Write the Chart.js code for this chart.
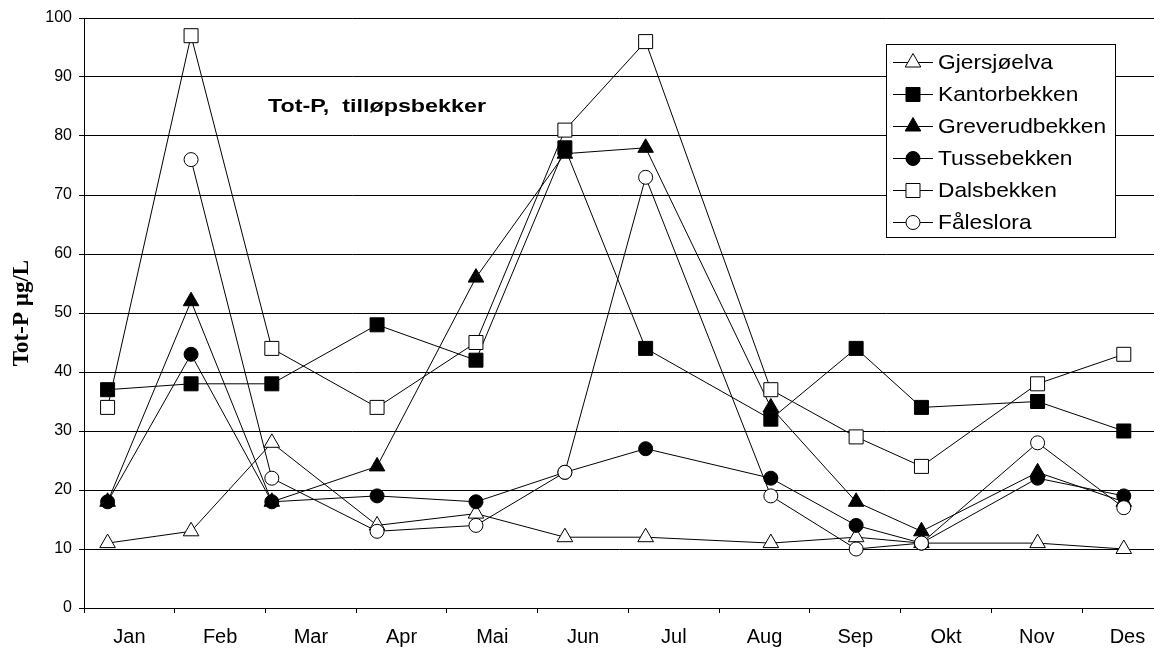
<!DOCTYPE html>
<html><head><meta charset="utf-8">
<script src="https://cdn.jsdelivr.net/npm/chart.js@4.4.1/dist/chart.umd.min.js"></script>
<style>html,body{margin:0;padding:0;background:#fff;overflow:hidden}#wrap{width:1154px;height:648px}</style>
</head><body><div id="wrap"><canvas id="c" width="1154" height="648"></canvas></div>
<script>
// ---- data ----
const monthLabels = ['Jan','Feb','Mar','Apr','Mai','Jun','Jul','Aug','Sep','Okt','Nov','Des'];
// sampling time expressed as fractional month (0 = 1 Jan)
const sampleMonth = [0.26, 1.18, 2.07, 3.23, 4.32, 5.30, 6.19, 7.57, 8.51, 9.23, 10.51, 11.46];
const gjersjoelva    = [11, 13, 28, 14, 16, 12, 12, 11, 12, 11, 11, 10];
const kantorbekken   = [37, 38, 38, 48, 42, 78, 44, 32, 44, 34, 35, 30];
const greverudbekken = [18, 52, 18, 24, 56, 77, 78, 34, 18, 13, 23, 18];
const tussebekken    = [18, 43, 18, 19, 18, 23, 27, 22, 14, 11, 22, 19];
const dalsbekken     = [34, 97, 44, 34, 45, 81, 96, 37, 29, 24, 38, 43];
const faleslora      = [null, 76, 22, 13, 14, 23, 73, 19, 10, 11, 28, 17];
const yTickStep = 10;
const yMin = 0, yMax = 100;
const chartTitle = 'Tot-P,  tilløpsbekker';
const yTitle = 'Tot-P µg/L';

const seriesNames = ['Gjersjøelva','Kantorbekken','Greverudbekken','Tussebekken','Dalsbekken','Fåleslora'];
const seriesValues = [gjersjoelva, kantorbekken, greverudbekken, tussebekken, dalsbekken, faleslora];
const seriesStyle = [
  {pointStyle:'triangle', fill:'#ffffff', r:9},
  {pointStyle:'rect', fill:'#000000', r:9.9},
  {pointStyle:'triangle', fill:'#000000', r:9},
  {pointStyle:'circle', fill:'#000000', r:7},
  {pointStyle:'rect', fill:'#ffffff', r:9.9},
  {pointStyle:'circle', fill:'#ffffff', r:7}
];

const datasets = seriesNames.map((name, i) => ({
  label: name,
  data: sampleMonth.map((x, j) => ({x: x, y: seriesValues[i][j]})),
  borderColor: '#000',
  borderWidth: 1,
  tension: 0,
  spanGaps: false,
  pointStyle: seriesStyle[i].pointStyle,
  pointRadius: seriesStyle[i].r,
  pointHoverRadius: seriesStyle[i].r,
  pointBackgroundColor: seriesStyle[i].fill,
  pointBorderColor: '#000',
  pointBorderWidth: 1,
  order: seriesNames.length - i,
  clip: false
}));

const overlay = {
  id: 'overlay',
  afterDraw(chart) {
    const ctx = chart.ctx;
    // title inside plot
    ctx.save();
    ctx.fillStyle = '#000';
    ctx.font = "bold 19px 'Liberation Sans', Arial, sans-serif";
    ctx.textBaseline = 'alphabetic';
    ctx.textAlign = 'left';
    const tw = ctx.measureText(chartTitle).width;
    ctx.translate(268, 112);
    ctx.scale(218 / tw, 1);
    ctx.fillText(chartTitle, 0, 0);
    ctx.restore();

    // legend
    ctx.save();
    ctx.font = "21px 'Liberation Sans', Arial, sans-serif";
    const sx = 115 / ctx.measureText('Gjersjøelva').width;
    let maxW = 0;
    seriesNames.forEach(n => { maxW = Math.max(maxW, ctx.measureText(n).width * sx); });
    const bx = 886.5, by = 44.5, bw = Math.round(938 + maxW + 9 - 886), bh = 193;
    ctx.fillStyle = '#fff';
    ctx.fillRect(bx, by, bw, bh);
    ctx.strokeStyle = '#000';
    ctx.lineWidth = 1;
    ctx.strokeRect(bx, by, bw, bh);
    seriesNames.forEach((n, i) => {
      const y = 62 + 32 * i;
      ctx.beginPath();
      ctx.moveTo(893, y + 0.5);
      ctx.lineTo(933, y + 0.5);
      ctx.strokeStyle = '#000';
      ctx.lineWidth = 1;
      ctx.stroke();
      ctx.fillStyle = seriesStyle[i].fill;
      ctx.strokeStyle = '#000';
      Chart.helpers.drawPoint(ctx, {pointStyle: seriesStyle[i].pointStyle, radius: seriesStyle[i].r, rotation: 0, borderWidth: 1}, 913, y + 0.5);
      ctx.save();
      ctx.fillStyle = '#000';
      ctx.textBaseline = 'middle';
      ctx.textAlign = 'left';
      ctx.translate(938, y + 1);
      ctx.scale(sx, 1);
      ctx.fillText(n, 0, 0);
      ctx.restore();
    });
    ctx.restore();
  }
};

new Chart(document.getElementById('c'), {
  type: 'line',
  data: { datasets },
  options: {
    responsive: false,
    animation: false,
    devicePixelRatio: 1,
    layout: { autoPadding: false, padding: { top: 18, right: 0, bottom: 0, left: 0 } },
    plugins: { legend: { display: false }, tooltip: { enabled: false }, title: { display: false } },
    events: [],
    scales: {
      x: {
        type: 'linear',
        min: 0,
        max: 11.793,
        afterBuildTicks(axis) { axis.ticks = monthLabels.map((_, i) => ({ value: i })); },
        afterFit(scale) { scale.height = 40; scale.paddingRight = 0; scale.paddingLeft = 0; },
        ticks: {
          autoSkip: false,
          maxRotation: 0,
          minRotation: 0,
          labelOffset: 45.4,
          padding: 12,
          color: '#000',
          font: { family: "'Liberation Sans', Arial, sans-serif", size: 20 },
          callback: (v, idx) => monthLabels[idx]
        },
        grid: { drawOnChartArea: false, drawTicks: true, tickLength: 5, color: '#000', lineWidth: 1 },
        border: { color: '#000', width: 1 }
      },
      y: {
        type: 'linear',
        min: yMin,
        max: yMax,
        afterFit(scale) { scale.width = 84; },
        ticks: {
          stepSize: yTickStep,
          padding: 7,
          color: '#000',
          font: { family: "'Liberation Sans', Arial, sans-serif", size: 16 }
        },
        grid: { color: '#000', lineWidth: 1, tickLength: 5, drawTicks: true },
        border: { color: '#000', width: 1 },
        title: {
          display: true,
          text: yTitle,
          color: '#000',
          font: { family: "'Liberation Serif', 'Times New Roman', serif", size: 23, weight: 'bold' },
          padding: { top: 8, bottom: 0 }
        }
      }
    }
  },
  plugins: [overlay]
});
</script>
</body></html>
